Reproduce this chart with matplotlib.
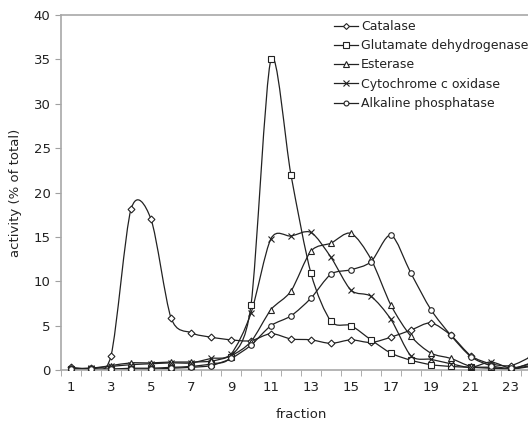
import numpy as np
import matplotlib
matplotlib.use("Agg")
import matplotlib.pyplot as plt
from matplotlib.path import Path
from matplotlib.patches import PathPatch
from matplotlib.lines import Line2D

fraction = list(range(1, 25))

catalase = [0.3, 0.2, 1.6, 18.1, 17.0, 5.9, 4.2, 3.7, 3.4, 3.3, 4.1, 3.5, 3.4, 3.0,
            3.4, 3.1, 3.7, 4.5, 5.3, 3.9, 1.6, 0.7, 0.5, 1.5]
glutamate = [0.1, 0.1, 0.1, 0.2, 0.2, 0.3, 0.4, 0.7, 1.5, 7.3, 35.0, 22.0, 10.9, 5.5,
             5.0, 3.4, 1.9, 1.1, 0.6, 0.4, 0.3, 0.2, 0.1, 0.4]
esterase = [0.2, 0.2, 0.5, 0.8, 0.8, 0.9, 0.9, 1.0, 1.6, 3.2, 6.8, 8.9, 13.4, 14.3,
            15.4, 12.5, 7.3, 3.8, 1.9, 1.3, 0.4, 0.3, 0.1, 0.8]
cytochrome = [0.1, 0.2, 0.4, 0.6, 0.7, 0.8, 0.8, 1.3, 1.8, 6.4, 14.8, 15.1, 15.5, 12.7,
              9.0, 8.3, 5.7, 1.6, 1.2, 0.7, 0.3, 0.9, 0.2, 0.5]
alkaline = [0.1, 0.1, 0.1, 0.1, 0.1, 0.2, 0.3, 0.5, 1.3, 2.8, 5.0, 6.1, 8.1, 10.8,
            11.3, 12.2, 15.2, 10.9, 6.8, 3.9, 1.5, 0.5, 0.2, 0.7]

series = [
    ("Catalase", catalase, "D", 3.5),
    ("Glutamate dehydrogenase", glutamate, "s", 4.5),
    ("Esterase", esterase, "^", 4.5),
    ("Cytochrome c oxidase", cytochrome, "x", 4.5),
    ("Alkaline phosphatase", alkaline, "o", 4),
]


def smooth_path(x, y, k=1 / 7):
    # bezier segments through the points, like Excel's smoothed lines
    x = np.asarray(x, float)
    y = np.asarray(y, float)
    verts = [(x[0], y[0])]
    codes = [Path.MOVETO]
    n = len(x)
    for i in range(n - 1):
        p0 = (x[max(i - 1, 0)], y[max(i - 1, 0)])
        p1 = (x[i], y[i])
        p2 = (x[i + 1], y[i + 1])
        p3 = (x[min(i + 2, n - 1)], y[min(i + 2, n - 1)])
        c1 = (p1[0] + (p2[0] - p0[0]) * k, p1[1] + (p2[1] - p0[1]) * k)
        c2 = (p2[0] - (p3[0] - p1[0]) * k, p2[1] - (p3[1] - p1[1]) * k)
        verts += [c1, c2, p2]
        codes += [Path.CURVE4] * 3
    return Path(verts, codes)


fig = plt.figure(figsize=(5.28, 4.23), dpi=100)
ax = fig.add_axes([0.1155, 0.1253, 0.909, 0.839])

handles = []
for name, vals, mk, ms in series:
    ax.add_patch(PathPatch(smooth_path(fraction, vals), fill=False,
                           edgecolor="#222222", lw=0.9, zorder=2))
    ax.plot(fraction, vals, linestyle="none", marker=mk, ms=ms,
            mfc="white", mec="#222222", mew=0.8, zorder=3)
    handles.append(Line2D([], [], color="#222222", lw=0.9, marker=mk, ms=ms - 0.5,
                          mfc="white", mec="#222222", mew=0.8))

ax.set_xlim(0.5, 24.5)
ax.set_ylim(0, 40)
ax.set_yticks(np.arange(0, 41, 5))
ax.set_xticks(range(1, 24, 2))
ax.set_xticks(np.arange(0.5, 25, 1), minor=True)
ax.tick_params(axis="x", which="major", length=0, labelsize=9.5, pad=8,
               labelcolor="#222222")
ax.tick_params(axis="x", which="minor", length=4, color="#a0a0a0", direction="out")
ax.tick_params(axis="y", length=4, color="#a0a0a0", labelsize=9.5,
               labelcolor="#222222")

for side in ["left", "bottom", "top"]:
    ax.spines[side].set_color("#a8a8a8")
    ax.spines[side].set_linewidth(1.2)
ax.spines["right"].set_visible(False)

ax.set_xlabel("fraction", fontsize=9.5, labelpad=10, color="#222222")
ax.set_ylabel("activity (% of total)", fontsize=9.5, labelpad=8, color="#222222")

ax.legend(handles, [s[0] for s in series], loc="upper left",
          bbox_to_anchor=(334 / 528, 1 - 20 / 423), bbox_transform=fig.transFigure,
          frameon=False, fontsize=9, handlelength=1.9, handletextpad=0.25,
          labelspacing=0.5, borderpad=0, borderaxespad=0, labelcolor="#222222")

fig.savefig("out.png", dpi=100)
